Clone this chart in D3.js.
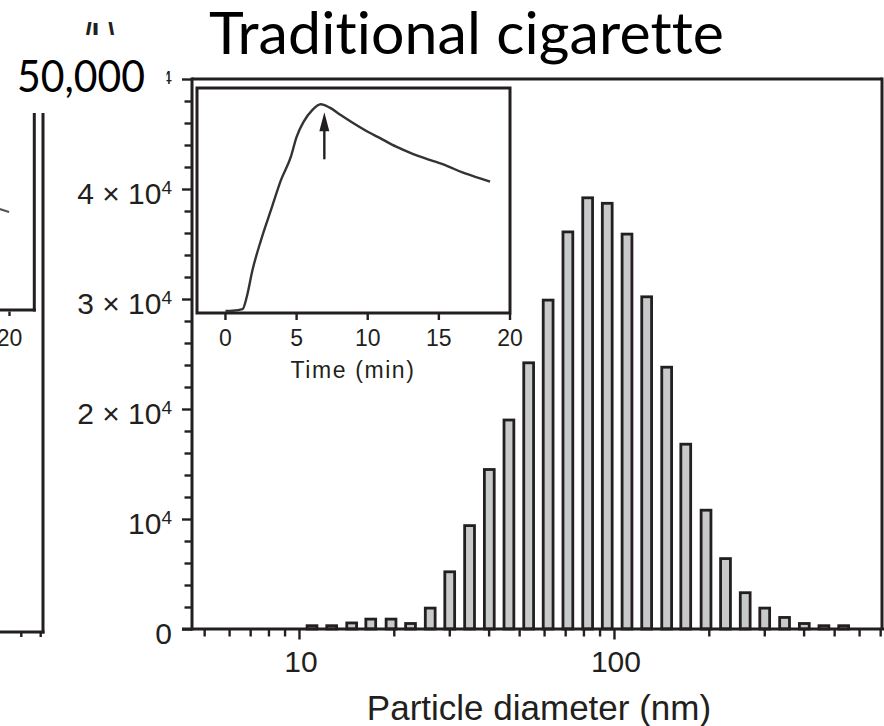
<!DOCTYPE html>
<html>
<head>
<meta charset="utf-8">
<script src="https://cdn.jsdelivr.net/npm/d3@7"></script>
<style>
  html, body { margin: 0; padding: 0; background: #fff; }
  svg { display: block; }
  .caption { font-variant-ligatures: none; font-feature-settings: "liga" 0, "clig" 0; }
</style>
</head>
<body>
<svg id="chart" width="884" height="726"></svg>
<script>
// Particle size distribution: bin mid-point diameters (nm) and counts per bin
const diameters = [11.0, 12.7, 14.7, 16.9, 19.6, 22.6, 26.1, 30.1, 34.8, 40.2,
                   46.4, 53.6, 61.8, 71.4, 82.5, 95.2, 110, 127, 147, 169,
                   196, 226, 261, 301, 348, 402, 464, 536];
const counts = [300, 300, 550, 900, 900, 500, 1900, 5200, 9400, 14500,
                19000, 24200, 29900, 36100, 39200, 38700, 35900, 30200, 23800, 16800,
                10800, 6400, 3300, 1900, 1050, 500, 300, 300];
const yMajorTicks = [0, 10000, 20000, 30000, 40000, 50000];
const xLabelTicks = [10, 100];

// Inset: total concentration over time (relative units)
const times = [0, 0.5, 1.2, 1.5, 1.9, 2.5, 3.2, 3.9, 4.6, 5.0, 5.5, 6.1, 6.7,
               7.3, 8.1, 9.0, 10.0, 10.9, 12.0, 13.2, 14.4, 15.6, 16.7, 17.9, 18.6];
const level = [0, 0.1, 0.8, 6.4, 18.4, 31.8, 45.3, 58.7, 69.2, 78.1, 84.9, 90.1, 92.7,
               91.3, 87.9, 84.2, 80.4, 77.4, 73.7, 70.4, 67.7, 65.0, 62.0, 59.5, 58.0];
const insetTicks = [0, 5, 10, 15, 20];
const peakTime = 6.95;

// Tail of the neighbouring panel's time course
const neighbourTimes = [19.3, 19.97];
const neighbourLevel = [45.3, 43.9];

const ink = "#231f20";
const svg = d3.select("#chart");

// ---------- neighbouring panel (cut off at the left edge) ----------
const left = svg.append("g").attr("stroke", ink).attr("fill", "none");
left.append("line").attr("x1", 43).attr("x2", 43).attr("y1", 79).attr("y2", 633.5).attr("stroke-width", 3);
left.append("line").attr("x1", -2).attr("x2", 44.5).attr("y1", 632).attr("y2", 632).attr("stroke-width", 3);
[21.3, 40.7].forEach(tx => left.append("line").attr("x1", tx).attr("x2", tx).attr("y1", 632).attr("y2", 637).attr("stroke-width", 2.4));
left.append("line").attr("x1", 34.3).attr("x2", 34.3).attr("y1", 79).attr("y2", 311.5).attr("stroke-width", 3);
left.append("line").attr("x1", -2).attr("x2", 35.8).attr("y1", 310).attr("y2", 310).attr("stroke-width", 3);
const lx = d3.scaleLinear().domain([-2, 20]).range([-303.5, 9.5]);
const ly = d3.scaleLinear().domain([0, 100]).range([309, 88]);
left.append("line").attr("x1", lx(20)).attr("x2", lx(20)).attr("y1", 311.5).attr("y2", 316).attr("stroke-width", 2.4);
left.append("path")
  .attr("d", d3.line().x((d, i) => lx(d)).y((d, i) => ly(neighbourLevel[i]))(neighbourTimes))
  .attr("stroke", "#555").attr("stroke-width", 2.2);
svg.append("text").attr("x", lx(20)).attr("y", 346).attr("text-anchor", "middle")
  .attr("font-family", "Liberation Sans, Arial, sans-serif").attr("font-size", 23).attr("fill", ink)
  .text("20");

// ---------- main plot ----------
const x = d3.scaleLog().domain([4.575, 709.4]).range([192, 882]);
const y = d3.scaleLinear().domain([0, 50000]).range([629, 79]);

// bars
const barW = 0.5 * (x(diameters[1]) - x(diameters[0]));
svg.append("g").selectAll("rect").data(diameters).join("rect")
  .attr("x", d => x(d) - barW / 2)
  .attr("width", barW)
  .attr("y", (d, i) => y(counts[i]))
  .attr("height", (d, i) => y(0) - y(counts[i]))
  .attr("fill", "#c8c9cb")
  .attr("stroke", ink)
  .attr("stroke-width", 2.8);

// y axis ticks
const yMinor = d3.range(0, 50001, 2000).filter(v => v % 10000 !== 0);
const yAxisG = svg.append("g").attr("transform", `translate(192,0)`);
yAxisG.call(d3.axisLeft(y).tickValues(yMinor).tickSize(7.5).tickFormat(""));
const yAxisMajor = svg.append("g").attr("transform", `translate(192,0)`);
yAxisMajor.call(d3.axisLeft(y).tickValues(yMajorTicks).tickSize(10).tickFormat(""));
svg.selectAll(".domain").remove();

// x axis ticks (log)
const xTicks = x.ticks();
const xAxisG = svg.append("g").attr("transform", `translate(0,629)`);
xAxisG.call(d3.axisBottom(x).tickValues(xTicks.filter(t => !xLabelTicks.includes(t))).tickSize(7.5).tickFormat(""));
const xAxisMajor = svg.append("g").attr("transform", `translate(0,629)`);
xAxisMajor.call(d3.axisBottom(x).tickValues(xLabelTicks).tickSize(10.5).tickFormat(""));
xAxisG.select(".domain").remove();
xAxisMajor.select(".domain").remove();
svg.selectAll(".tick line").attr("stroke", ink).attr("stroke-width", 2.4);

// frame and axis lines
const frame = svg.append("g").attr("stroke", ink).attr("stroke-width", 3).attr("fill", "none");
frame.append("line").attr("x1", 182).attr("x2", 886).attr("y1", y(0)).attr("y2", y(0));
frame.append("line").attr("x1", x.range()[0]).attr("x2", x.range()[0]).attr("y1", y(50000) - 1.5).attr("y2", y(0) + 1.5);
frame.append("line").attr("x1", x.range()[0]).attr("x2", x.range()[1]).attr("y1", y(50000)).attr("y2", y(50000));
frame.append("line").attr("x1", x.range()[1]).attr("x2", x.range()[1]).attr("y1", y(50000) - 1.5).attr("y2", y(0));

// y tick labels
const labelFont = "Liberation Sans, Arial, sans-serif";
yMajorTicks.forEach(v => {
  const t = svg.append("text")
    .attr("x", 172).attr("y", y(v) + 15)
    .attr("text-anchor", "end")
    .attr("font-family", labelFont).attr("font-size", 30).attr("fill", ink);
  if (v === 0) { t.text("0"); return; }
  const k = v / 10000;
  t.append("tspan").text(k === 1 ? "10" : `${k} \u00d7 10`);
  t.append("tspan").attr("dy", -10).attr("font-size", 19).text("4");
});

// x tick labels
xLabelTicks.forEach(v => {
  svg.append("text").attr("x", x(v) + 2).attr("y", 672)
    .attr("text-anchor", "middle")
    .attr("font-family", labelFont).attr("font-size", 30).attr("fill", ink)
    .text(v);
});

// x axis title
svg.append("text").attr("x", 539).attr("y", 720)
  .attr("text-anchor", "middle")
  .attr("font-family", labelFont).attr("font-size", 35).attr("fill", ink)
  .text("Particle diameter (nm)");

// ---------- inset: time course ----------
const tx = d3.scaleLinear().domain([-2, 20]).range([197, 510]);
const ty = d3.scaleLinear().domain([0, 100]).range([311, 88]);
const inset = svg.append("g");
inset.append("rect")
  .attr("x", tx(-2)).attr("y", ty(100))
  .attr("width", tx(20) - tx(-2)).attr("height", 313 - ty(100))
  .attr("fill", "#fff").attr("stroke", ink).attr("stroke-width", 3);
inset.append("path")
  .attr("d", d3.line().x((d, i) => tx(d)).y((d, i) => ty(level[i])).curve(d3.curveMonotoneX)(times))
  .attr("fill", "none").attr("stroke", "#333").attr("stroke-width", 2.4);
insetTicks.forEach(v => {
  inset.append("line").attr("x1", tx(v)).attr("x2", tx(v)).attr("y1", 314).attr("y2", 320)
    .attr("stroke", ink).attr("stroke-width", 2.4);
  inset.append("text").attr("x", tx(v)).attr("y", 346)
    .attr("text-anchor", "middle")
    .attr("font-family", labelFont).attr("font-size", 23).attr("fill", ink)
    .text(v);
});
inset.append("text").attr("x", 353).attr("y", 378)
  .attr("text-anchor", "middle")
  .attr("font-family", labelFont).attr("font-size", 23).attr("letter-spacing", 1.6).attr("fill", ink)
  .text("Time (min)");

// arrow marking the peak
const ax = tx(peakTime);
const tipY = ty(d3.max(level)) + 8;
inset.append("line").attr("x1", ax).attr("x2", ax).attr("y1", tipY + 15).attr("y2", tipY + 47)
  .attr("stroke", ink).attr("stroke-width", 2.4);
inset.append("path")
  .attr("d", `M${ax},${tipY} L${ax - 5},${tipY + 19} L${ax + 5},${tipY + 19} Z`)
  .attr("fill", ink);

// ---------- overlay captions ----------
svg.append("text").attr("x", 100).attr("y", 42).attr("text-anchor", "middle")
  .attr("font-family", labelFont).attr("font-size", 27).attr("font-weight", "bold").attr("fill", ink)
  .text("/L\\");
svg.append("rect").attr("x", 0).attr("y", 35).attr("width", 166.5).attr("height", 78).attr("fill", "#fff");
svg.append("text").attr("class", "caption").attr("x", 17).attr("y", 92)
  .attr("font-family", "Lato, 'Open Sans', sans-serif").attr("font-size", 45).attr("fill", "#000")
  .attr("textLength", 128).attr("lengthAdjust", "spacingAndGlyphs")
  .text("50,000");
svg.append("text").attr("class", "caption").attr("x", 209).attr("y", 54)
  .attr("font-family", "Lato, 'Open Sans', sans-serif").attr("font-size", 59).attr("fill", "#000")
  .attr("textLength", 515).attr("lengthAdjust", "spacing")
  .text("Traditional cigarette");
</script>
</body>
</html>
